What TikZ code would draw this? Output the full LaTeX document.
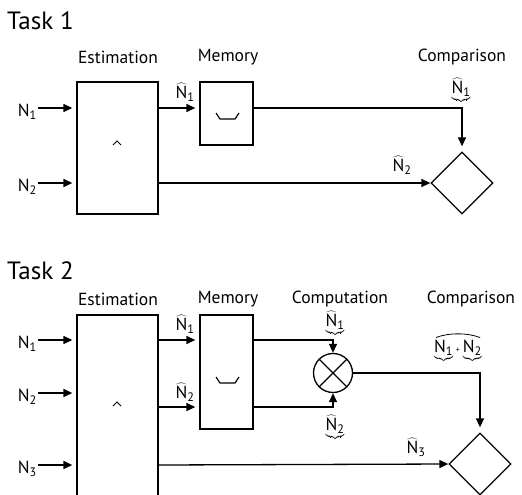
\documentclass[tikz,border=0pt]{standalone}
\usepackage{fontspec}
\setmainfont{PT Sans}
\usetikzlibrary{arrows.meta,shapes.geometric}
\newcommand{\hN}[1]{$\widehat{\hbox{N}}$\textsubscript{#1}}
\newcommand{\bN}[1]{$\underbrace{\hbox{$\widehat{\hbox{N}}$\textsubscript{#1}}}$}
\newcommand{\pN}[1]{N\textsubscript{#1}}
\begin{document}
\begin{tikzpicture}[x=1pt,y=-1pt,
  every node/.style={font=\fontsize{17.5}{20}\selectfont, inner sep=1pt},
  title/.style={font=\fontsize{25}{28}\selectfont, anchor=west},
  box/.style={draw, line width=1.3pt, inner sep=0pt},
  dia/.style={draw, diamond, line width=1.3pt, minimum width=62pt, minimum height=62pt, inner sep=0pt},
  arr/.style={line width=1.3pt, -{Triangle[length=9pt,width=8pt]}},
  ln/.style={line width=1.3pt}]
\clip (0,0) rectangle (522,495);
% ---------- Task 1
\node[title] (t1) at (6,21) {Task 1};
\node (est1l) at (118,57) {Estimation};
\node (mem1l) at (228,57) {Memory};
\node (cmp1l) at (462,57) {Comparison};
\node[box, minimum width=81pt, minimum height=132pt] (est1) at (117.5,148) {};
\node[box, minimum width=53pt, minimum height=63pt] (mem1) at (226.5,113.5) {};
\node[dia] (dia1) at (462,183) {};
\coordinate (y11) at (0,108);
\coordinate (y12) at (0,183);
\node[anchor=east] (n11) at (38,112) {\pN{1}};
\node[anchor=east] (n12) at (38,187) {\pN{2}};
\draw[arr, shorten >=4pt] (n11.east |- y11) -- (est1.west |- y11);
\draw[arr, shorten >=4pt] (n12.east |- y12) -- (est1.west |- y12);
\draw[arr, shorten >=4pt] (est1.east |- y11) -- (mem1.west |- y11);
\draw[arr, shorten >=5pt] (mem1.east |- y11) -| (dia1.north);
\draw[arr] (est1.east |- y12) -- (dia1.west);
\node (h11) at (185,92) {\hN{1}};
\node (h12) at (461,91) {\bN{1}};
\node (h13) at (402,165) {\hN{2}};
\draw[line width=1pt] (113,145) -- (117,141) -- (121,145);
\draw[line width=1.2pt] (216,113) -- (220,119) -- (235,119) -- (239,113);
% ---------- Task 2
\node[title] (t2) at (6,271) {Task 2};
\node (est2l) at (118,299) {Estimation};
\node (mem2l) at (228,299) {Memory};
\node (com2l) at (340,299) {Computation};
\node (cmp2l) at (471,299) {Comparison};
\node[box, minimum width=81pt, minimum height=200pt] (est2) at (117.5,415) {};
\node[box, minimum width=53pt, minimum height=114pt] (mem2) at (226.5,372) {};
\node[draw, circle, line width=1.3pt, minimum size=39pt, inner sep=0pt] (comp) at (333,373) {};
\draw[line width=1.2pt] (comp.north west) -- (comp.south east);
\draw[line width=1.2pt] (comp.north east) -- (comp.south west);
\node[dia] (dia2) at (480,464) {};
\coordinate (y21) at (0,340);
\coordinate (y22) at (0,393);
\coordinate (y23) at (0,465);
\coordinate (y2b) at (0,407);
\node[anchor=east] (n21) at (38,344) {\pN{1}};
\node[anchor=east] (n22) at (38,397) {\pN{2}};
\node[anchor=east] (n23) at (38,469) {\pN{3}};
\draw[arr, shorten >=4pt] (n21.east |- y21) -- (est2.west |- y21);
\draw[arr, shorten >=4pt] (n22.east |- y22) -- (est2.west |- y22);
\draw[arr, shorten >=4pt] (n23.east |- y23) -- (est2.west |- y23);
\draw[arr, shorten >=4pt] (est2.east |- y21) -- (mem2.west |- y21);
\draw[arr, shorten >=4pt] (est2.east |- y2b) -- (mem2.west |- y2b);
\draw[arr] (mem2.east |- y21) -| (comp.north);
\draw[arr] (mem2.east |- y2b) -| (comp.south);
\draw[arr, shorten >=5pt] (comp.east) -| (dia2.north);
\draw[arr] (est2.east |- y23) -- (dia2.west);
\node (h21) at (185,324) {\hN{1}};
\node (h22) at (185,392) {\hN{2}};
\node (h23) at (335,324) {\bN{1}};
\node (h24) at (335,428) {\bN{2}};
\node (h25) at (416,447) {\hN{3}};
\node (h26) at (458,351) {$\underbrace{\hbox{N\textsubscript{1}}}\hbox{\footnotesize+}\underbrace{\hbox{N\textsubscript{2}}}$};
\draw[line width=0.8pt] ([xshift=3pt,yshift=1pt]h26.north west) .. controls ([xshift=-10pt,yshift=6pt]h26.north) and ([xshift=10pt,yshift=6pt]h26.north) .. ([xshift=-3pt,yshift=1pt]h26.north east);
\draw[line width=1pt] (113,406) -- (117,402) -- (121,406);
\draw[line width=1.2pt] (216,377) -- (220,383) -- (235,383) -- (239,377);
\end{tikzpicture}
\end{document}
